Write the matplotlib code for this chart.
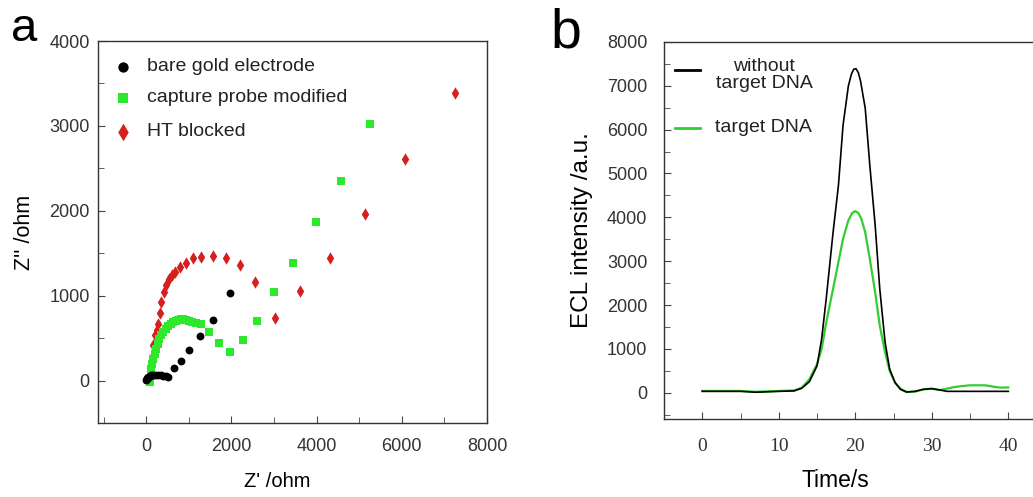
import matplotlib
matplotlib.use("Agg")
import matplotlib.pyplot as plt
from matplotlib.ticker import MultipleLocator

plt.rcParams['font.family'] = ['Liberation Sans', 'DejaVu Sans']

# ── panel a: Nyquist plots ──
bare_x = [5, 15, 25, 40, 60, 80, 110, 150, 200, 275, 340, 400, 470, 518, 651, 808, 1004, 1255, 1577, 1969]
bare_y = [5, 20, 30, 40, 45, 55, 60, 65, 67, 71, 70, 59, 52, 47, 145, 236, 362, 519, 716, 1030]

cap_x = [86, 102, 120, 141, 170, 204, 240, 275, 310, 353, 400, 455, 510, 573, 630, 690, 750, 808, 870,
         925, 1000, 1082, 1180, 1294, 1482, 1710, 1977, 2267, 2612, 2996, 3451, 3984, 4573, 5263]
cap_y = [-20, 79, 140, 197, 255, 315, 375, 433, 485, 531, 575, 610, 640, 669, 688, 700, 713, 720, 720,
         716, 705, 688, 680, 669, 570, 448, 334, 480, 704, 1038, 1384, 1872, 2355, 3020]

ht_x = [70, 100, 135, 170, 215, 250, 278, 314, 350, 415, 470, 533, 600, 667, 792, 941, 1106, 1294,
        1568, 1882, 2196, 2557, 3028, 3617, 4314, 5130, 6086, 7255]
ht_y = [40, 150, 283, 413, 537, 600, 668, 790, 924, 1038, 1121, 1199, 1240, 1274, 1337, 1384, 1443, 1455,
        1465, 1448, 1360, 1166, 738, 1050, 1448, 1958, 2615, 3382]

# ── panel b: ECL curves ──
t_black = [0, 5, 7, 10, 12, 13, 14, 15, 15.6, 16.2, 17.1, 17.8, 18.4, 19.1, 19.5, 19.8, 20.1, 20.4, 20.7,
           21.3, 21.9, 22.6, 23.2, 23.9, 24.5, 25.2, 25.9, 26.7, 27.8, 28.9, 30, 31.1, 32, 35, 40]
i_black = [30, 30, 10, 30, 40, 100, 250, 610, 1220, 2140, 3660, 4730, 6100, 7000, 7270, 7380, 7390, 7300, 7100,
           6490, 5190, 3820, 2370, 1145, 534, 230, 76, 15, 30, 76, 92, 60, 30, 30, 30]

t_green = [0, 5, 7, 10, 12, 13, 14, 15, 15.6, 16.2, 17.1, 17.8, 18.4, 19.1, 19.6, 20, 20.4, 20.8, 21.3,
           21.9, 22.6, 23.2, 23.9, 24.5, 25.2, 25.9, 26.7, 27.8, 28.9, 30, 31.1, 32, 33, 34, 35, 36, 37,
           38, 39, 40]
i_green = [40, 40, 20, 40, 50, 115, 305, 650, 990, 1600, 2370, 2980, 3510, 3930, 4100, 4140, 4100, 3960, 3660,
           3050, 2290, 1530, 916, 496, 229, 92, 15, 23, 76, 92, 60, 92, 130, 150, 168, 168, 168,
           137, 115, 120]

RED = '#d61f1f'
GREEN = '#2ee82e'
TICKC = '#444444'
tickfont = ['Liberation Sans', 'DejaVu Sans']

fig = plt.figure(figsize=(10.33, 4.97), dpi=100)

# ---- a ----
ax = fig.add_axes([0.0949, 0.1489, 0.3765, 0.7686])
ax.scatter(bare_x, bare_y, s=32, c='black', marker='o', lw=0, zorder=3)
ax.scatter(cap_x, cap_y, s=32, c=GREEN, marker='s', lw=0, zorder=2)
ax.scatter(ht_x, ht_y, s=40, c=RED, marker='d', lw=0, zorder=1)
ax.set_xlim(-1130, 8000)
ax.set_ylim(-500, 4000)
ax.xaxis.set_major_locator(MultipleLocator(2000))
ax.xaxis.set_minor_locator(MultipleLocator(1000))
ax.yaxis.set_major_locator(MultipleLocator(1000))
ax.yaxis.set_minor_locator(MultipleLocator(500))
ax.tick_params(which='both', direction='in', top=False, right=False, color=TICKC, labelcolor='#333333')
ax.tick_params(which='major', length=5)
ax.tick_params(which='minor', length=4)
ax.tick_params(axis='x', pad=11)
ax.tick_params(axis='y', pad=6)
for lb in ax.get_xticklabels() + ax.get_yticklabels():
    lb.set_family(tickfont); lb.set_fontsize(13)
for sp in ax.spines.values():
    sp.set_color('#333333'); sp.set_linewidth(1.0)

# legend a, drawn by hand to match spacing
leg_lab = ['bare gold electrode', 'capture probe modified', 'HT blocked']
leg_y = [0.932, 0.851, 0.762]
ax.scatter([0.064], [leg_y[0]], s=55, c='black', marker='o', lw=0, transform=ax.transAxes)
ax.scatter([0.064], [leg_y[1]], s=55, c=GREEN, marker='s', lw=0, transform=ax.transAxes)
ax.scatter([0.064], [leg_y[2]], s=80, c=RED, marker='d', lw=0, transform=ax.transAxes)
for lab, yy in zip(leg_lab, leg_y):
    ax.text(0.126, yy, lab, transform=ax.transAxes, fontsize=14, va='center', ha='left', color='#222222')

ax.set_ylabel("Z'' /ohm", fontsize=15.5, labelpad=10)
fig.text(0.268, 0.013, "Z' /ohm", fontsize=14.5, ha='center', va='bottom')
fig.text(0.011, 0.985, 'a', fontsize=34, ha='left', va='top')

# ---- b ----
bx = fig.add_axes([0.6428, 0.157, 0.3703, 0.7585])
bx.plot(t_black, i_black, color='black', lw=1.2, zorder=3)
bx.plot(t_green, i_green, color='#33cc33', lw=1.6, zorder=2)
bx.set_xlim(-5, 45)
bx.set_ylim(-600, 8000)
bx.set_xticks([0, 10, 20, 30, 40])
bx.set_xticks([5, 15, 25, 35], minor=True)
bx.yaxis.set_major_locator(MultipleLocator(1000))
bx.yaxis.set_minor_locator(MultipleLocator(500))
bx.tick_params(which='both', direction='in', top=False, right=False, color=TICKC, labelcolor='#333333')
bx.tick_params(which='major', length=5)
bx.tick_params(which='minor', length=4)
bx.tick_params(axis='x', pad=14)
bx.tick_params(axis='y', pad=12)
for lb in bx.get_xticklabels():
    lb.set_family(['Liberation Serif', 'DejaVu Serif']); lb.set_fontsize(14)
for lb in bx.get_yticklabels():
    lb.set_family(tickfont); lb.set_fontsize(13)
for sp in bx.spines.values():
    sp.set_color('#333333'); sp.set_linewidth(1.0)

# legend b, drawn by hand
bx.plot([0.029, 0.094], [0.926, 0.926], color='black', lw=2.0, transform=bx.transAxes)
bx.plot([0.029, 0.094], [0.772, 0.772], color='#33cc33', lw=2.0, transform=bx.transAxes)
bx.text(0.262, 0.912, 'without\ntarget DNA', transform=bx.transAxes, fontsize=14, ha='center',
        va='center', multialignment='center', linespacing=1.0, color='#222222')
bx.text(0.133, 0.772, 'target DNA', transform=bx.transAxes, fontsize=14, ha='left', va='center',
        color='#222222')

bx.set_ylabel('ECL intensity /a.u.', fontsize=17.5, labelpad=10)
fig.text(0.809, 0.010, 'Time/s', fontsize=16.5, ha='center', va='bottom')
fig.text(0.533, 0.985, 'b', fontsize=40, ha='left', va='top')

fig.savefig('out.png', dpi=100)
